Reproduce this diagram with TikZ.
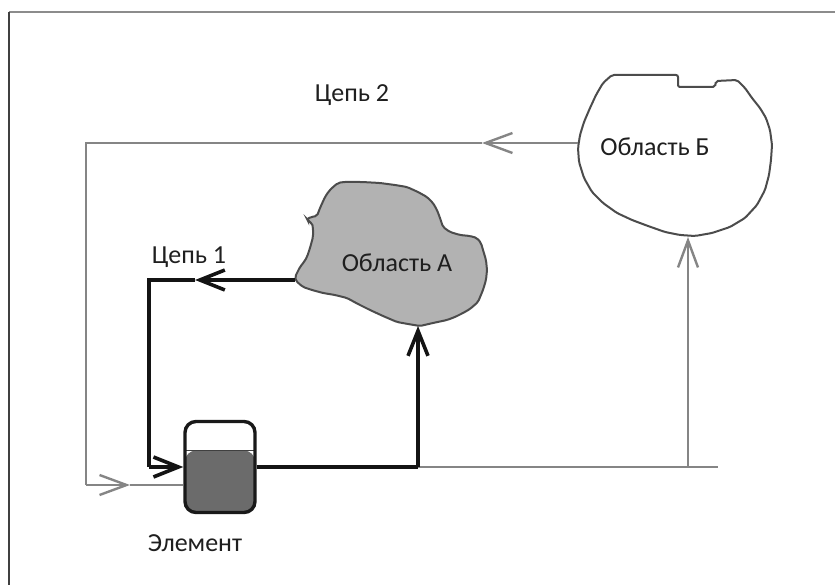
\documentclass[tikz,border=0pt]{standalone}
\usepackage{fontspec}
\setmainfont{Carlito}
\usetikzlibrary{arrows.meta}
\tikzset{
	wiretwo/.style={line width=2.4pt, color=black!48},
	wireone/.style={line width=3.6pt, color=black!92},
	tiptwo/.style={-{Straight Barb[length=27pt,width=20pt]}},
	tipone/.style={-{Straight Barb[length=25pt,width=20pt]}},
	lbl/.style={font=\fontsize{26}{30}\selectfont, text=black!88, inner sep=0pt},
	areaA/.style={draw=black!70, line width=2pt, fill=black!30, rounded corners=2pt},
	areaB/.style={draw=black!70, line width=2pt, fill=white, rounded corners=2pt},
	elembox/.style={draw=black!90, line width=3.4pt, rounded corners=11pt, minimum width=70pt,
		minimum height=91pt, inner sep=0pt, fill=white,
		path picture={
			\fill[black!58] (path picture bounding box.south west) rectangle ([yshift=-29pt]path picture bounding box.north east);
			\draw[black!75, line width=1pt] ([yshift=-29pt]path picture bounding box.north west) -- ([yshift=-29pt]path picture bounding box.north east);
		}}
}

\begin{document}
\begin{tikzpicture}[x=1pt, y=-1pt]
			%%%%% START %%%%%
			\useasboundingbox (0,0) rectangle (835,585);
			
			% frame
			\draw[black!45, line width=2pt] (9,12) -- (835,12);
			\draw[black!75, line width=1.2pt] (9,12) -- (9,585);
			
			% area B
			\draw[areaB] (612,75) -- (678,75) -- (678,87) -- (715,87) -- (716,81) -- (737,80) -- (745,88)
				-- (752,98) -- (760,108) -- (766,118) -- (770,130) -- (772,145) -- (771,160) -- (769,175)
				-- (765,190) -- (757,205) -- (745,218) -- (730,227) -- (712,233) -- (695,236) -- (680,235)
				-- (665,232) -- (648,226) -- (632,220) -- (617,213) -- (603,203) -- (592,192) -- (584,178)
				-- (579,162) -- (578,148) -- (580,135) -- (584,122) -- (590,108) -- (596,95) -- (603,83) -- cycle;
			\node[lbl] (areaBtext) at (655,147) {Область Б};
			
			% area A
			\draw[areaA] (343,182) -- (362,182) -- (380,183) -- (395,185) -- (407,187) -- (418,192) -- (427,197)
				-- (433,203) -- (437,210) -- (440,218) -- (443,227) -- (450,232) -- (460,235) -- (470,236)
				-- (477,238) -- (481,243) -- (483,250) -- (486,260) -- (487,270) -- (486,280) -- (483,290)
				-- (478,302) -- (470,309) -- (463,313) -- (455,317) -- (447,320) -- (433,323) -- (420,326)
				-- (408,324) -- (397,322) -- (383,316) -- (370,310) -- (358,304) -- (347,298) -- (335,295)
				-- (323,293) -- (312,290) -- (303,287) -- (296,281) -- (295,277) -- (298,271) -- (300,267)
				-- (304,262) -- (307,257) -- (310,248) -- (313,237) -- (313,228) -- (312,223) -- (308,221)
				-- (307,219) -- (311,217) -- (317,216) -- (320,208) -- (325,197) -- (329,191) -- (333,187)
				-- (338,183) -- cycle;
			\node[lbl] (areaAtext) at (397,263) {Область А};
			
			% element
			\node[elembox] (elem) at (220,467) {};
			\node[lbl] (elemtext) at (195,543) {Элемент};
			
			\node[lbl] (chaintwo) at (352,95) {Цепь 2};
			\node[lbl] (chainone) at (189,257) {Цепь 1};
			
			\coordinate (Bwest) at (578,143);
			\coordinate (Bsouth) at (688,237);
			\coordinate (Awest) at (295,280);
			\coordinate (Asouth) at (418,326);
			\coordinate (tipB) at (482,143);
			\coordinate (topleft) at (86,143);
			\coordinate (botleft) at (86,485);
			\coordinate (tipE) at (130,485);
			\coordinate (riseA) at (418,467);
			\coordinate (riseB) at (688,467);
			\coordinate (botright) at (718,467);
			\coordinate (tipA) at (195,280);
			\coordinate (cornerA) at (149,280);
			\coordinate (cornerE) at (149,467);
			
			% chain 2
			\draw[wiretwo, tiptwo] (Bwest) -- (tipB);
			\draw[wiretwo] (tipB) -- (topleft) -- (botleft);
			\draw[wiretwo, tiptwo] (botleft) -- (tipE);
			\draw[wiretwo] (tipE) -- (tipE -| elem.west);
			\draw[wiretwo] (riseA) -- (botright);
			\draw[wiretwo, tiptwo] (riseB) -- (Bsouth);
			
			% chain 1
			\draw[wireone] (elem.east) -- (riseA);
			\draw[wireone, tipone] (riseA) -- (Asouth);
			\draw[wireone, tipone] (Awest) -- (tipA);
			\draw[wireone] (tipA) -- (cornerA) -- (cornerE);
			\draw[wireone, tipone] (cornerE) -- (elem.west);
			
			%%%%% END %%%%%
\end{tikzpicture}
\end{document}
